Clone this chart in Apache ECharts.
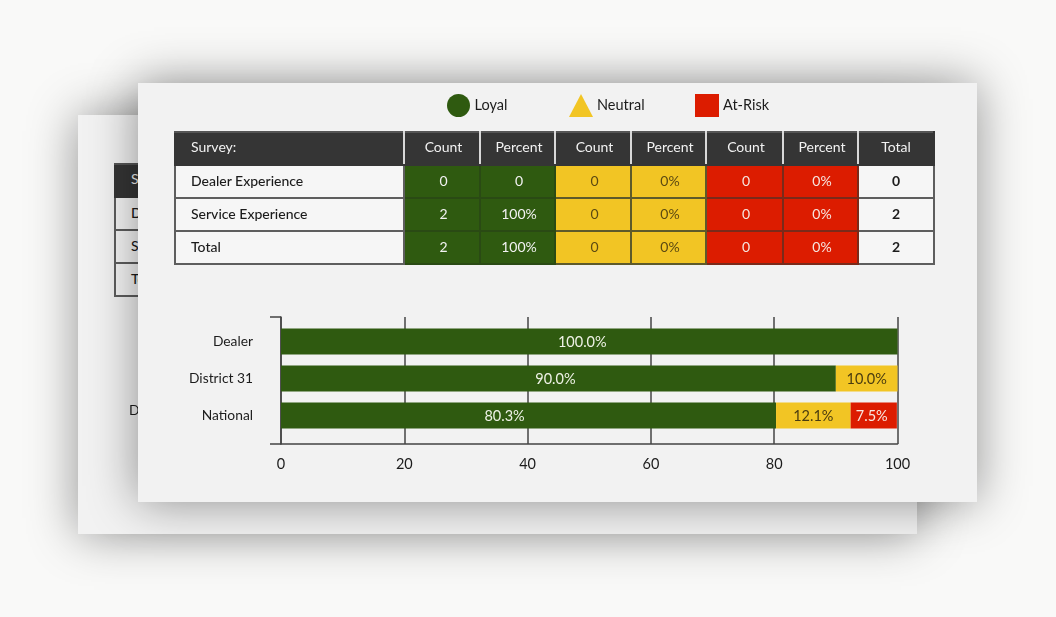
<!DOCTYPE html>
<html>
<head>
<meta charset="utf-8">
<script src="https://cdn.jsdelivr.net/npm/echarts@6/dist/echarts.min.js"></script>
<style>
  html, body { margin: 0; padding: 0; width: 1056px; height: 617px; overflow: hidden; background: #f9f9f8; font-family: Lato, sans-serif; }
  .card { position: absolute; width: 839px; height: 419px; background: #f2f2f2; box-shadow: 0 0 46px rgba(0, 0, 0, 0.42); }
  #back { left: 78px; top: 115px; }
  #front { left: 138px; top: 83px; }
  .clip { position: absolute; left: 0; top: 0; height: 419px; overflow: hidden; }
  .chart { position: absolute; left: 0; top: 0; width: 839px; height: 419px; }
  table { position: absolute; left: 36px; top: 48px; width: 759px; height: 132px; border-collapse: collapse; table-layout: fixed; font-size: 14px; color: #1c1c1c; }
  td, th { box-sizing: border-box; height: 33px; border: 2px solid #5e5e5e; text-align: center; padding: 0 0 1px 3px; font-weight: 400; line-height: 16px; }
  th { background: #353535; color: #f2f2f2; border-top-color: #555; border-bottom-color: #353535; border-left-color: #d8d8d8; border-right-color: #d8d8d8; padding-bottom: 4px; }
  th.name { text-align: left; padding-left: 15px; border-left-color: #353535; }
  th:last-child { border-right-color: #353535; padding-left: 0; }
  td.name { text-align: left; padding-left: 15px; background: #f6f6f6; font-weight: 500; }
  td.total { background: #f6f6f6; font-weight: 700; padding-left: 0; }
  td.loyal { background: #2f5a10; color: #f2f2f2; border-color: #2a4a14; }
  td.neutral { background: #f2c524; color: #5c4a12; border-color: #5e5a2a; }
  td.risk { background: #dc1c00; color: #f6e6e0; border-color: #7a2a1a; }
</style>
</head>
<body>
<div class="card" id="back"><div class="clip" style="width:60px"><div class="chart"></div><table></table></div></div>
<div class="card" id="front"><div class="clip" style="width:839px"><div class="chart"></div><table></table></div></div>
<script>
const surveys = ["Dealer Experience", "Service Experience", "Total"];
const tableHeaders = ["Survey:", "Count", "Percent", "Count", "Percent", "Count", "Percent", "Total"];
const columnWidths = [229, 76, 75, 76, 75, 77, 75, 76];
const loyalCounts = ["0", "2", "2"];
const loyalPercents = ["0", "100%", "100%"];
const neutralCounts = ["0", "0", "0"];
const neutralPercents = ["0%", "0%", "0%"];
const riskCounts = ["0", "0", "0"];
const riskPercents = ["0%", "0%", "0%"];
const totals = ["0", "2", "2"];

const groups = ["Dealer", "District 31", "National"];
const loyalValues = [100, 90, 80.3];
const neutralValues = [null, 10, 12.1];
const riskValues = [null, null, 7.5];
const valueTicks = [0, 20, 40, 60, 80, 100];

const GREEN = "#2f5a10";
const YELLOW = "#f2c524";
const RED = "#dc1c00";
const FONT = "Lato";
// the original's labels do not sit dead centre in their bars
const loyalLabelShift = [-7, -3, -24];
const riskLabelShift = [0, 0, -2];

function fillTable(table) {
  let html = "<colgroup>" + columnWidths.map((w) => `<col style="width:${w}px">`).join("") + "</colgroup>";
  html += "<tr>" + tableHeaders.map((h, i) => `<th class="${i == 0 ? "name" : ""}">${h}</th>`).join("") + "</tr>";
  surveys.forEach((survey, i) => {
    html += `<tr><td class="name">${survey}</td>`;
    html += `<td class="loyal">${loyalCounts[i]}</td><td class="loyal">${loyalPercents[i]}</td>`;
    html += `<td class="neutral">${neutralCounts[i]}</td><td class="neutral">${neutralPercents[i]}</td>`;
    html += `<td class="risk">${riskCounts[i]}</td><td class="risk">${riskPercents[i]}</td>`;
    html += `<td class="total">${totals[i]}</td></tr>`;
  });
  table.innerHTML = html;
}

function barSeries(name, values, color, labelColor, shift) {
  return {
    name: name,
    type: "bar",
    stack: "all",
    xAxisIndex: 1,
    yAxisIndex: 1,
    barWidth: 26,
    data: values.map((v, i) => ({ value: v, label: { offset: [shift ? shift[i] : 0, 1] } })),
    itemStyle: { color: color },
    label: {
      show: true,
      position: "inside",
      color: labelColor,
      fontFamily: FONT,
      fontSize: 14.5,
      formatter: (p) => p.value.toFixed(1) + "%",
    },
  };
}

function legendItem(name, icon, left) {
  return {
    data: [{ name: name, icon: icon }],
    left: left,
    top: 11,
    padding: 0,
    itemWidth: 24,
    itemHeight: 23,
    itemGap: 0,
    selectedMode: false,
    textStyle: { color: "#1c1c1c", fontFamily: FONT, fontSize: 14.5, padding: [0, 0, 0, -1] },
  };
}

function drawChart(el) {
  const chart = echarts.init(el);
  const plot = { left: 143, width: 616.5 };
  chart.setOption({
    animation: false,
    legend: [
      legendItem("Loyal", "circle", 309),
      legendItem("Neutral", "triangle", 431),
      legendItem("At-Risk", "rect", 557),
    ],
    // outer grid only carries the frame, inner one holds the three bars
    grid: [
      { ...plot, top: 234, height: 127 },
      { ...plot, top: 240, height: 111 },
    ],
    xAxis: [
      {
        gridIndex: 0,
        type: "value",
        min: 0,
        max: 100,
        interval: 20,
        axisLine: { show: true, onZero: false, lineStyle: { color: "#444", width: 1.5 } },
        axisTick: { show: false },
        axisLabel: { color: "#1c1c1c", fontFamily: FONT, fontSize: 14.5, margin: 13, formatter: (v) => (valueTicks.includes(v) ? v : "") },
        splitLine: { show: true, lineStyle: { color: "#444", width: 1.5 } },
      },
      { gridIndex: 1, type: "value", min: 0, max: 100, show: false },
    ],
    yAxis: [
      {
        gridIndex: 0,
        type: "category",
        data: [""],
        axisLine: { show: true, lineStyle: { color: "#444", width: 1.5 } },
        axisTick: { show: true, length: 11, lineStyle: { color: "#444", width: 1.5 } },
        axisLabel: { show: false },
      },
      {
        gridIndex: 1,
        type: "category",
        inverse: true,
        data: groups,
        axisLine: { show: false },
        axisTick: { show: false },
        axisLabel: { color: "#1c1c1c", fontFamily: FONT, fontSize: 13.8, margin: 28, padding: [2, 0, 0, 0] },
      },
    ],
    series: [
      barSeries("Loyal", loyalValues, GREEN, "#eef2e6", loyalLabelShift),
      barSeries("Neutral", neutralValues, YELLOW, "#4a3c10"),
      barSeries("At-Risk", riskValues, RED, "#f8e8e0", riskLabelShift),
    ],
  });
}

document.querySelectorAll(".card").forEach((card) => {
  fillTable(card.querySelector("table"));
  drawChart(card.querySelector(".chart"));
});
</script>
</body>
</html>
